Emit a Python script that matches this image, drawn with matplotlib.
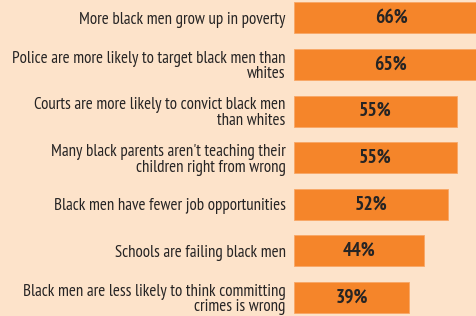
import matplotlib
matplotlib.use("Agg")
import matplotlib.pyplot as plt

labels = [
    "More black men grow up in poverty",
    "Police are more likely to target black men than\nwhites",
    "Courts are more likely to convict black men\nthan whites",
    "Many black parents aren't teaching their\nchildren right from wrong",
    "Black men have fewer job opportunities",
    "Schools are failing black men",
    "Black men are less likely to think committing\ncrimes is wrong",
]
values = [66, 65, 55, 55, 52, 44, 39]

fam = ["PT Sans Narrow", "Fira Sans Condensed", "DejaVu Sans"]

bg = "#FDE3CA"
bar_color = "#F5852A"
text_color = "#262424"

fig = plt.figure(figsize=(4.76, 3.16), dpi=100, facecolor=bg)
ax = fig.add_axes([294 / 476, 0, 1 - 294 / 476, 1])
ax.set_facecolor(bg)

pos = list(range(len(values)))
ax.barh(pos, values, height=0.665, color=bar_color, edgecolor="#F9A765", linewidth=0.6)
for p, v in zip(pos, values):
    ax.text(v / 2, p, f"{v}%", ha="center", va="center", fontsize=14,
            fontweight="bold", color=text_color, family=fam)

ax.set_xlim(0, 61.5)
ax.set_ylim(6.395, -0.386)
ax.set_yticks(pos)
ax.set_yticklabels(labels, fontsize=12.2, color=text_color, family=fam, linespacing=0.98)
ax.tick_params(axis="y", length=0, pad=6)
ax.set_xticks([])
for s in ax.spines.values():
    s.set_visible(False)

fig.savefig("out.png", dpi=100, facecolor=bg)
